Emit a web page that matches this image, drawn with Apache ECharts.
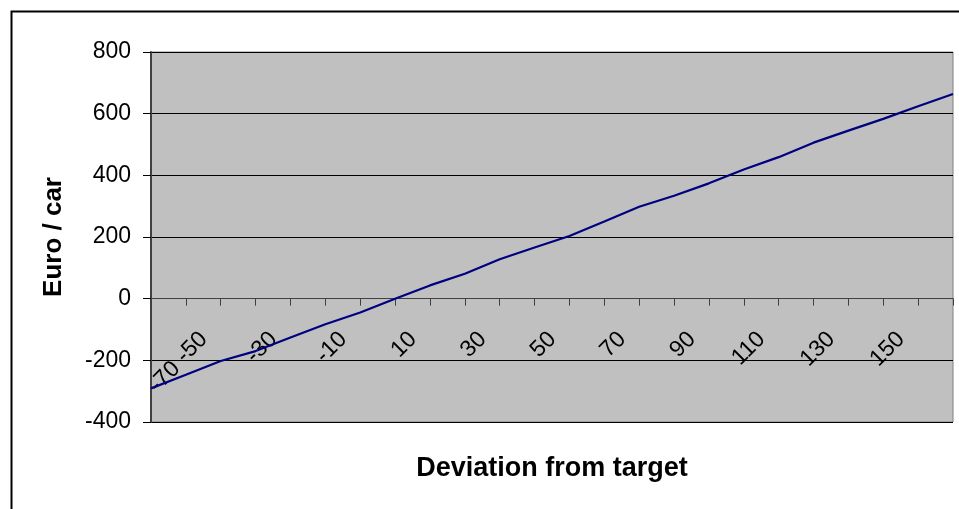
<!DOCTYPE html>
<html>
<head>
<meta charset="utf-8">
<script src="https://cdn.jsdelivr.net/npm/echarts@6/dist/echarts.min.js"></script>
<style>
  html, body { margin: 0; padding: 0; background: #ffffff; }
  #chart { width: 959px; height: 509px; }
</style>
</head>
<body>
<div id="chart"></div>
<script>
// Deviation from target (categories) and cost per car in euro
const deviations = [-70, -60, -50, -40, -30, -20, -10, 0, 10, 20, 30, 40, 50, 60, 70, 80, 90, 100, 110, 120, 130, 140, 150, 160];
const euroPerCar = [-291, -247, -202, -170, -126, -83, -45, 0, 43, 81, 128, 166, 203, 250, 298, 334, 374, 419, 459, 506, 545, 583, 624, 664];
const yTicks = { min: -400, max: 800, step: 200 };

const FONT = 'Liberation Sans, Arial, sans-serif';

const W = 959, H = 509;
const GRID = { left: 151, right: 6, top: 52, bottom: 87 };
// the category axis crosses the value axis at zero
const plotH = H - GRID.top - GRID.bottom;
const zeroFromBottom = plotH * (0 - yTicks.min) / (yTicks.max - yTicks.min);

const chart = echarts.init(document.getElementById('chart'), null, { renderer: 'canvas' });

chart.setOption({
  animation: false,
  backgroundColor: '#ffffff',
  graphic: [{
    type: 'rect',
    left: 9, top: 9,
    shape: { x: 0, y: 0, width: 980, height: 540 },
    style: { fill: 'none', stroke: '#000000', lineWidth: 2 },
    silent: true
  }],
  grid: {
    left: GRID.left, right: GRID.right, top: GRID.top, bottom: GRID.bottom,
    show: true,
    backgroundColor: '#C0C0C0',
    borderColor: '#808080',
    borderWidth: 1,
    containLabel: false,
    outerBoundsMode: 'none'
  },
  xAxis: {
    type: 'category',
    data: deviations,
    boundaryGap: false,
    position: 'bottom',
    offset: -zeroFromBottom,
    name: 'Deviation from target',
    nameLocation: 'middle',
    nameGap: 156,
    nameTextStyle: { fontFamily: FONT, fontSize: 27, fontWeight: 'bold', color: '#000' },
    axisLine: { onZero: false, lineStyle: { color: '#404040', width: 1 } },
    axisTick: { show: true, interval: 0, length: 7, lineStyle: { color: '#404040' } },
    axisLabel: {
      interval: 1,
      rotate: 45,
      margin: 20,
      fontFamily: FONT,
      fontSize: 23,
      color: '#000',
      formatter: (v, i) => (i === 0 ? '{first|' + v + '}' : '{norm|' + v + '}'),
      rich: {
        norm: { fontFamily: FONT, fontSize: 23, color: '#000', padding: [0, 24, 0, 0] },
        first: { fontFamily: FONT, fontSize: 23, color: '#000', padding: [102, 15, 0, 0] }
      }
    },
    splitLine: { show: false }
  },
  yAxis: {
    type: 'value',
    min: yTicks.min,
    max: yTicks.max,
    interval: yTicks.step,
    name: 'Euro / car',
    nameLocation: 'middle',
    nameGap: 84,
    nameTextStyle: { fontFamily: FONT, fontSize: 26, fontWeight: 'bold', color: '#000' },
    axisLine: { show: true, onZero: false, lineStyle: { color: '#404040', width: 2 } },
    axisTick: { show: true, length: 8, lineStyle: { color: '#000' } },
    axisLabel: { margin: 20, fontFamily: FONT, fontSize: 23, color: '#000' },
    splitLine: { show: true, lineStyle: { color: '#000000', width: 1 } }
  },
  series: [{
    type: 'line',
    data: euroPerCar,
    symbol: 'none',
    lineStyle: { color: '#000080', width: 2.2 },
    z: 5
  }]
});
</script>
</body>
</html>
